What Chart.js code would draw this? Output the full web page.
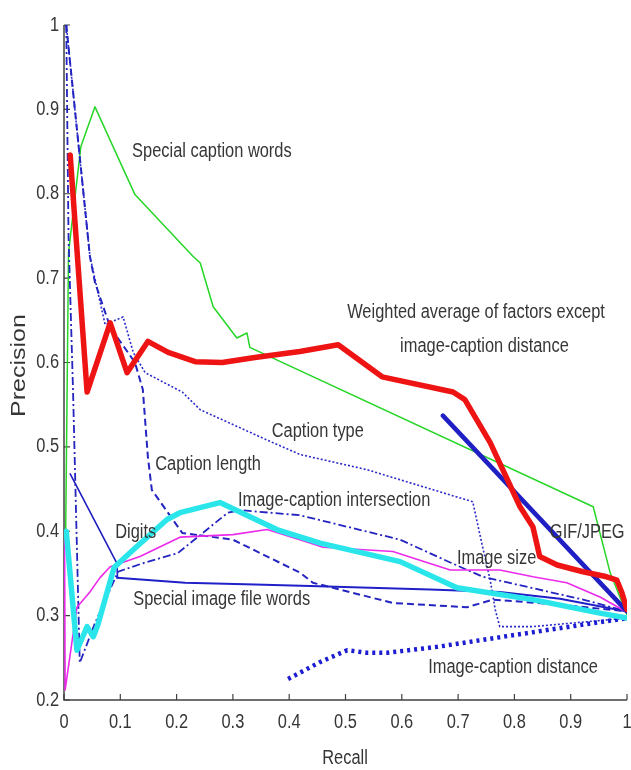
<!DOCTYPE html>
<html>
<head>
<meta charset="utf-8">
<script src="https://cdn.jsdelivr.net/npm/chart.js@4/dist/chart.umd.min.js"></script>
<style>
  html, body { margin: 0; padding: 0; background: #fff; }
  #wrap { width: 631px; height: 770px; }
</style>
</head>
<body>
<div id="wrap"><canvas id="pr"></canvas></div>
<script>
// Precision–recall curves for caption-finding factors

const xTicks = [0, 0.1, 0.2, 0.3, 0.4, 0.5, 0.6, 0.7, 0.8, 0.9, 1];
const xTickLabels = ['0', '0.1', '0.2', '0.3', '0.4', '0.5', '0.6', '0.7', '0.8', '0.9', '1'];
const yTicks = [0.2, 0.3, 0.4, 0.5, 0.6, 0.7, 0.8, 0.9, 1];
const yTickLabels = ['0.2', '0.3', '0.4', '0.5', '0.6', '0.7', '0.8', '0.9', '1'];

const specialCaptionWordsRecall = [0.003, 0.008, 0.030, 0.055, 0.126, 0.229, 0.242, 0.265, 0.307, 0.325, 0.330, 0.940, 0.970, 1.0];
const specialCaptionWordsPrecision = [0.40, 0.73, 0.856, 0.903, 0.799, 0.726, 0.718, 0.666, 0.629, 0.635, 0.618, 0.429, 0.351, 0.301];

const weightedAverageRecall = [0.011, 0.041, 0.082, 0.112, 0.149, 0.185, 0.233, 0.281, 0.339, 0.419, 0.487, 0.565, 0.691, 0.712, 0.757, 0.810, 0.833, 0.845, 0.876, 0.922, 0.964, 0.982, 0.991, 1.0];
const weightedAveragePrecision = [0.846, 0.565, 0.647, 0.588, 0.625, 0.612, 0.601, 0.600, 0.606, 0.613, 0.621, 0.583, 0.565, 0.556, 0.505, 0.429, 0.405, 0.370, 0.360, 0.352, 0.346, 0.342, 0.327, 0.307];

const gifJpegRecall = [0.673, 1.0];
const gifJpegPrecision = [0.537, 0.305];

const captionTypeRecall = [0.004, 0.046, 0.073, 0.105, 0.123, 0.144, 0.210, 0.242, 0.361, 0.419, 0.538, 0.686, 0.726, 0.742, 0.757, 0.766, 0.774, 0.833, 1.0];
const captionTypePrecision = [1.0, 0.726, 0.645, 0.654, 0.612, 0.588, 0.565, 0.544, 0.508, 0.491, 0.473, 0.443, 0.435, 0.386, 0.342, 0.307, 0.287, 0.287, 0.297];

const captionLengthRecall = [0.004, 0.046, 0.055, 0.082, 0.126, 0.140, 0.149, 0.156, 0.210, 0.300, 0.419, 0.442, 0.584, 0.716, 0.762, 0.881, 1.0];
const captionLengthPrecision = [1.0, 0.726, 0.695, 0.642, 0.600, 0.568, 0.488, 0.449, 0.398, 0.390, 0.351, 0.339, 0.315, 0.310, 0.319, 0.313, 0.305];

const intersectionRecall = [0.004, 0.008, 0.016, 0.028, 0.055, 0.096, 0.144, 0.202, 0.291, 0.313, 0.419, 0.597, 0.686, 0.744, 0.922, 1.0];
const intersectionPrecision = [1.0, 0.75, 0.568, 0.244, 0.291, 0.352, 0.363, 0.374, 0.422, 0.425, 0.419, 0.390, 0.363, 0.346, 0.319, 0.305];

const digitsRecall = [0.011, 0.094, 0.095];
const digitsPrecision = [0.468, 0.362, 0.345];

const fileWordsRecall = [0.094, 0.215, 0.339, 0.437, 0.650, 0.774, 0.881, 1.0];
const fileWordsPrecision = [0.345, 0.339, 0.337, 0.335, 0.331, 0.328, 0.320, 0.305];

const allFactorsRecall = [0.004, 0.023, 0.041, 0.052, 0.060, 0.089, 0.123, 0.183, 0.206, 0.277, 0.378, 0.455, 0.597, 0.698, 0.833, 0.952, 1.0];
const allFactorsPrecision = [0.40, 0.259, 0.287, 0.275, 0.289, 0.357, 0.378, 0.414, 0.422, 0.434, 0.402, 0.386, 0.364, 0.333, 0.319, 0.303, 0.297];

const imageSizeRecall = [0.001, 0.002, 0.023, 0.046, 0.064, 0.082, 0.135, 0.206, 0.300, 0.361, 0.437, 0.460, 0.584, 0.686, 0.774, 0.833, 0.893, 0.952, 1.0];
const imageSizePrecision = [0.39, 0.212, 0.310, 0.328, 0.345, 0.358, 0.370, 0.393, 0.396, 0.402, 0.386, 0.381, 0.376, 0.354, 0.354, 0.346, 0.339, 0.322, 0.304];

const distanceRecall = [0.398, 0.455, 0.503, 0.538, 0.574, 0.663, 0.780, 0.899, 1.0];
const distancePrecision = [0.225, 0.245, 0.259, 0.256, 0.256, 0.263, 0.275, 0.287, 0.297];

function pts(xs, ys) { return xs.map((x, i) => ({ x: x, y: ys[i] })); }

function curve(label, xs, ys, color, width, dash, order) {
  return {
    label: label,
    data: pts(xs, ys),
    showLine: true,
    borderColor: color,
    backgroundColor: color,
    borderWidth: width,
    borderDash: dash,
    borderJoinStyle: 'round',
    borderCapStyle: dash.length ? 'butt' : 'round',
    pointRadius: 0,
    pointHoverRadius: 0,
    tension: 0,
    fill: false,
    order: order
  };
}

// in-plot text labels, placed in data coordinates (left edge, vertical middle)
const notes = [
  ['Special caption words', 0.121, 0.850],
  ['Weighted average of factors except', 0.503, 0.659],
  ['image-caption distance', 0.597, 0.619],
  ['Caption type', 0.369, 0.518],
  ['Caption length', 0.162, 0.479],
  ['Image-caption intersection', 0.309, 0.437],
  ['Digits', 0.091, 0.399],
  ['GIF/JPEG', 0.863, 0.399],
  ['Image size', 0.698, 0.368],
  ['Special image file words', 0.123, 0.319],
  ['Image-caption distance', 0.647, 0.239]
];

const TEXT_FONT = '20px "Liberation Sans", Arial, sans-serif';
const NARROW = 0.82;

function narrowText(ctx, text, x, y, align) {
  ctx.save();
  ctx.translate(x, y);
  ctx.scale(NARROW, 1);
  ctx.textAlign = align;
  ctx.textBaseline = 'middle';
  ctx.fillText(text, 0, 0);
  ctx.restore();
}

const axesPlugin = {
  id: 'matlabAxes',
  beforeDatasetsDraw(chart) {
    const { ctx, chartArea: a, scales: { x, y } } = chart;
    ctx.save();
    ctx.strokeStyle = '#404040';
    ctx.lineWidth = 1.5;
    ctx.beginPath();
    ctx.moveTo(a.left, a.top);
    ctx.lineTo(a.left, a.bottom);
    ctx.lineTo(a.right, a.bottom);
    ctx.stroke();
    ctx.lineWidth = 1.2;
    ctx.beginPath();
    xTicks.forEach(v => {
      const px = x.getPixelForValue(v);
      ctx.moveTo(px, a.bottom);
      ctx.lineTo(px, a.bottom - 6);
    });
    yTicks.forEach(v => {
      const py = y.getPixelForValue(v);
      ctx.moveTo(a.left, py);
      ctx.lineTo(a.left + 6, py);
    });
    ctx.stroke();
    ctx.restore();
  },
  afterDatasetsDraw(chart) {
    const { ctx, chartArea: a, scales: { x, y } } = chart;
    ctx.save();
    ctx.font = TEXT_FONT;
    ctx.fillStyle = '#363636';
    xTicks.forEach((v, i) => narrowText(ctx, xTickLabels[i], x.getPixelForValue(v), a.bottom + 22, 'center'));
    yTicks.forEach((v, i) => narrowText(ctx, yTickLabels[i], a.left - 5, y.getPixelForValue(v), 'right'));
    notes.forEach(n => narrowText(ctx, n[0], x.getPixelForValue(n[1]), y.getPixelForValue(n[2]), 'left'));
    // axis titles
    narrowText(ctx, 'Recall', (a.left + a.right) / 2 - 0.5, a.bottom + 58, 'center');
    ctx.save();
    ctx.translate(19, y.getPixelForValue(0.6) + 3);
    ctx.rotate(-Math.PI / 2);
    ctx.scale(1, 0.82);
    ctx.font = '25px "Liberation Sans", Arial, sans-serif';
    ctx.textAlign = 'center';
    ctx.textBaseline = 'middle';
    ctx.fillText('Precision', 0, 0);
    ctx.restore();
    ctx.restore();
  }
};

new Chart(document.getElementById('pr'), {
  type: 'scatter',
  data: {
    datasets: [
      curve('Weighted average of factors except image-caption distance', weightedAverageRecall, weightedAveragePrecision, '#ee1414', 5.5, [], 0),
      curve('GIF/JPEG', gifJpegRecall, gifJpegPrecision, '#1f1fc4', 4.5, [], 1),
      curve('All factors', allFactorsRecall, allFactorsPrecision, '#2ae6ea', 5.5, [], 2),
      curve('Image size', imageSizeRecall, imageSizePrecision, '#ec2aec', 1.6, [], 3),
      curve('Image-caption distance', distanceRecall, distancePrecision, '#1c1cd0', 4.5, [3, 4], 4),
      curve('Image-caption intersection', intersectionRecall, intersectionPrecision, '#2424c0', 1.8, [8, 3, 2, 3], 5),
      curve('Caption length', captionLengthRecall, captionLengthPrecision, '#2424c0', 2, [7, 4], 6),
      curve('Caption type', captionTypeRecall, captionTypePrecision, '#2a2ac8', 1.6, [2, 2], 7),
      curve('Digits', digitsRecall, digitsPrecision, '#2020c0', 1.6, [], 8),
      curve('Special image file words', fileWordsRecall, fileWordsPrecision, '#2020c8', 2, [], 9),
      curve('Special caption words', specialCaptionWordsRecall, specialCaptionWordsPrecision, '#26d626', 1.5, [], 10)
    ]
  },
  options: {
    responsive: true,
    maintainAspectRatio: false,
    animation: false,
    layout: { padding: { left: 64, right: 4, top: 25, bottom: 70 } },
    plugins: { legend: { display: false }, tooltip: { enabled: false } },
    scales: {
      x: { type: 'linear', min: 0, max: 1, display: false },
      y: { type: 'linear', min: 0.2, max: 1, display: false }
    }
  },
  plugins: [axesPlugin]
});
</script>
</body>
</html>
